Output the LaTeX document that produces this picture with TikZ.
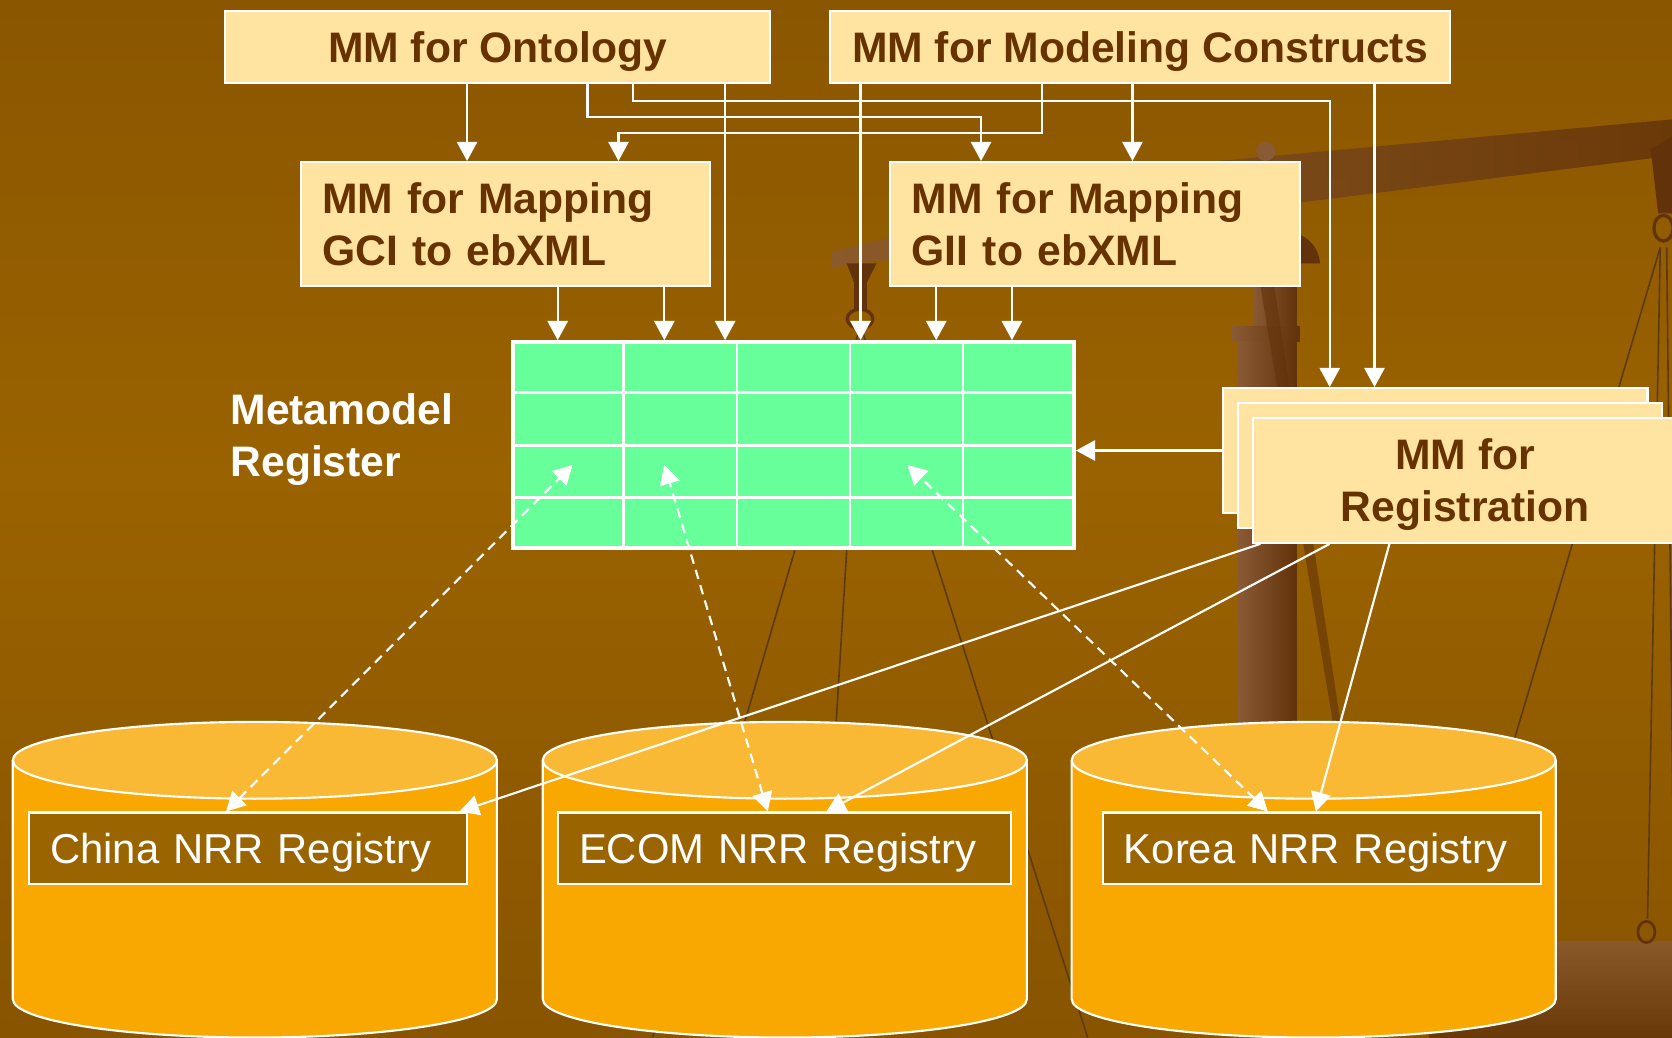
\documentclass[tikz,border=0pt]{standalone}
\usepackage{fontspec}
\setmainfont{Liberation Sans}
\usetikzlibrary{arrows.meta,calc}

\definecolor{bgtop}{HTML}{774500}
\definecolor{bgupper}{HTML}{8A5600}
\definecolor{bgmid}{HTML}{9A6200}
\definecolor{bglower}{HTML}{885400}
\definecolor{bgbot}{HTML}{6A3A00}
\definecolor{mmfill}{HTML}{FFE3A0}
\definecolor{mmtext}{HTML}{663300}
\definecolor{gridgreen}{HTML}{66FF99}
\definecolor{drumbody}{HTML}{F8A800}
\definecolor{drumtop}{HTML}{FAB935}
\definecolor{nrrfill}{HTML}{9A6400}
\definecolor{beamlight}{HTML}{8A5A35}
\definecolor{beamdark}{HTML}{62320A}
\definecolor{cord}{HTML}{5E3A14}

\pgfdeclareverticalshading{backdrop}{100bp}{color(0bp)=(bgbot); color(25bp)=(bglower); color(52bp)=(bgmid); color(75bp)=(bgupper); color(100bp)=(bgtop)}

\begin{document}
\begin{tikzpicture}[x=1pt,y=-1pt]
\tikzset{mmbox/.style={draw=white, line width=2pt, fill=mmfill, text=mmtext, inner sep=0pt, text depth=0pt, font=\bfseries\fontsize{40}{49}\selectfont}}
\tikzset{mapbox/.style={mmbox, text depth={}, inner xsep=20pt, text width=344pt, align=left, minimum height=116pt}}
\tikzset{nrrbox/.style={draw=white, line width=2pt, fill=nrrfill, text=white, inner xsep=20pt, inner ysep=0pt, minimum height=67pt, text width=#1, align=left, text depth=0pt, font=\fontsize{39.2}{48}\selectfont}, nrrbox/.default=371pt}
\tikzset{link/.style={white, line width=2pt, -{Triangle[length=18pt, width=19pt]}}}
\tikzset{dlink/.style={white, line width=2pt, dash pattern=on 9pt off 6pt, {Triangle[length=18pt, width=19pt]}-{Triangle[length=18pt, width=19pt]}}}

\clip (0,0) rectangle (1568,973);
\shade[shading=backdrop] (0,0) rectangle (1568,973);

% the balance behind everything
\shade[left color=beamlight, right color=beamdark, opacity=.8] (780,236) -- (1131,152) -- (1568,112) -- (1568,146) -- (1219,190) -- (780,251) -- cycle;
\fill[beamlight] (1187,142) circle[radius=9pt];
\shade[left color=beamlight, right color=beamdark] (1175,180) rectangle (1216,306);
\fill[beamdark] (1190,247) -- (1190,215) .. controls (1225,215) and (1236,230) .. (1238,247) -- cycle;
\shade[left color=beamlight, right color=beamdark] (1155,306) rectangle (1219,320);
\shade[left color=beamlight, right color=beamdark] (1161,320) rectangle (1216,973);
\fill[beamdark, opacity=.6] (1181,262) -- (1194,262) -- (1259,690) -- (1252,690) -- cycle;
\fill[beamdark] (794,247) -- (822,247) -- (813,265) -- (813,290) -- (801,290) -- (801,265) -- cycle;
\draw[beamdark, line width=3pt] (806.5,299) ellipse[x radius=12pt, y radius=9pt];
\draw[cord, line width=1.5pt] (807,305) -- (612,973) (807,305) -- (766,973) (807,305) -- (1020,973);
\fill[beamdark] (1548,140) -- (1568,128) -- (1568,200) -- (1555,200) -- cycle;
\draw[beamdark, line width=3pt] (1560,214) ellipse[x radius=9pt, y radius=12pt];
\draw[cord, line width=1.5pt] (1557,232) -- (1347,940) (1557,232) -- (1545,862) (1563,232) -- (1570,862);
\shade[top color=beamlight, bottom color=beamdark, opacity=.8] (1340,883) rectangle (1568,973);
\draw[beamdark, line width=2.5pt] (1544,874) ellipse[x radius=8pt, y radius=10pt];

% registry drums
\foreach \cx in {239,736,1232} {
  \fill[drumbody] (\cx-227,713) rectangle (\cx+227,937);
  \fill[drumbody] (\cx,937) ellipse[x radius=227pt, y radius=36pt];
  \draw[white, line width=2pt] (\cx-227,713) -- (\cx-227,937) arc[start angle=180, end angle=360, x radius=227pt, y radius=36pt] -- (\cx+227,713);
  \draw[white, line width=2pt, fill=drumtop] (\cx,713) ellipse[x radius=227pt, y radius=36pt];
}

\node[mmbox, minimum width=511pt, minimum height=68pt] (onto) at (466.5,44) {MM for Ontology};
\node[mmbox, minimum width=582pt, minimum height=68pt] (model) at (1069,44) {MM for Modeling Constructs};
\node[mapbox] (gci) at (474,210) {MM for Mapping\\GCI to ebXML};
\node[mapbox] (gii) at (1027,210) {MM for Mapping\\GII to ebXML};

\node[mmbox, minimum width=398pt, minimum height=117pt] (regback) at (1346,422.5) {};
\node[mmbox, minimum width=398pt, minimum height=117pt] (regmid) at (1360,436.5) {};
\node[mmbox, minimum width=398pt, minimum height=117pt, align=center] (regfront) at (1374,450.5) {MM for\\Registration};

\node[text=white, anchor=west, inner sep=0pt, text depth=0pt, align=left, font=\bfseries\fontsize{40}{49}\selectfont] (mmlabel) at (216,408) {Metamodel\\Register};

\node[draw=white, line width=4pt, fill=gridgreen, minimum width=526pt, minimum height=193pt, inner sep=0pt] (register) at (744,417.5) {};
\foreach \i in {1,...,4}
  \draw[white, line width=2.5pt] ($(register.north west)!\i/5!(register.north east)$) -- ($(register.south west)!\i/5!(register.south east)$);
\foreach \j in {1,2,3}
  \draw[white, line width=2.5pt] ($(register.north west)!\j/4!(register.south west)$) -- ($(register.north east)!\j/4!(register.south east)$);
\coordinate (slotchina) at (537,436);
\coordinate (slotecom) at (623,436);
\coordinate (slotkorea) at (851,436);

\node[nrrbox] (china) at (232.5,795.5) {China NRR Registry};
\node[nrrbox=385pt] (ecom) at (735.5,795.5) {ECOM NRR Registry};
\node[nrrbox] (korea) at (1239.5,795.5) {Korea NRR Registry};

% metamodel links
\draw[link] ([xshift=-28.5pt]onto.south) -- ([xshift=-36pt]gci.north);
\draw[link] ([xshift=213.5pt]onto.south) -- ([xshift=-64pt]register.north);
\draw[link] ([xshift=84.5pt]onto.south) -- ++(0,31) -| ([xshift=-107pt]gii.north);
\draw[link] ([xshift=127.5pt]onto.south) -- ++(0,16) -| ([xshift=-99pt]regback.north);
\draw[link] ([xshift=-92pt]model.south) -- ++(0,45.5) -| ([xshift=106pt]gci.north);
\draw[link] ([xshift=-262pt]model.south) -- ([xshift=63pt]register.north);
\draw[link] ([xshift=-7pt]model.south) -- ([xshift=35pt]gii.north);
\draw[link] ([xshift=220pt]model.south) -- ([xshift=-57pt]regback.north);
\draw[link] ([xshift=49pt]gci.south) -- ([xshift=-221pt]register.north);
\draw[link] ([xshift=149pt]gci.south) -- ([xshift=-121pt]register.north);
\draw[link] ([xshift=-149pt]gii.south) -- ([xshift=134pt]register.north);
\draw[link] ([xshift=-78pt]gii.south) -- ([xshift=205pt]register.north);
\draw[link] (regback.west) -- (regback.west -| register.east);

% registries
\draw[dlink] ([xshift=-20.5pt]china.north) -- (slotchina);
\draw[dlink] ([xshift=-15.5pt]ecom.north) -- (slotecom);
\draw[dlink] ([xshift=-50.5pt]korea.north) -- (slotkorea);
\draw[link] ([xshift=-192pt]regfront.south) -- ([xshift=-8pt]china.north east);
\draw[link] ([xshift=-127pt]regfront.south) -- ([xshift=39.5pt]ecom.north);
\draw[link] ([xshift=-71pt]regfront.south) -- ([xshift=-5.5pt]korea.north);
\end{tikzpicture}
\end{document}
